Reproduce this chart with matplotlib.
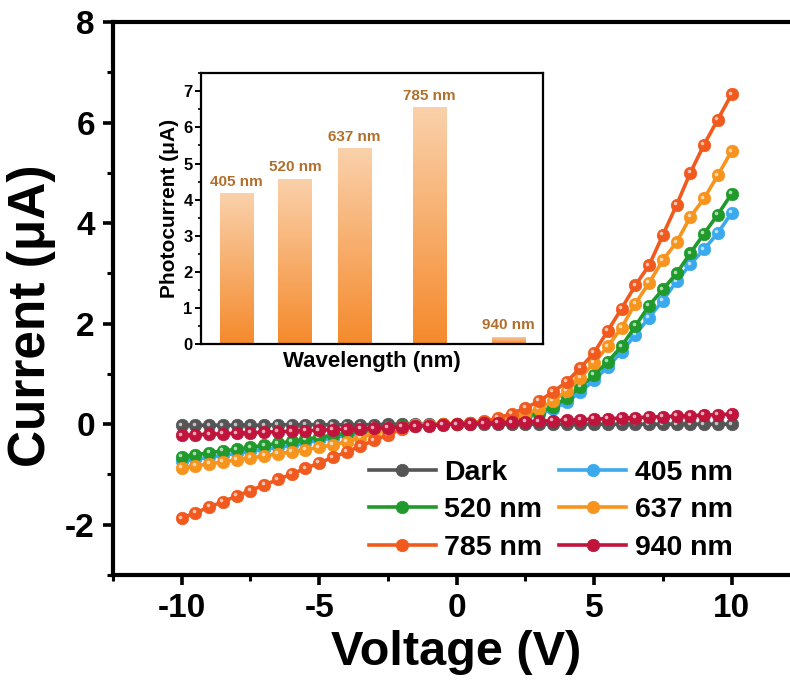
import numpy as np
import matplotlib
matplotlib.use("Agg")
import matplotlib.pyplot as plt
from matplotlib.colors import LinearSegmentedColormap
from matplotlib.transforms import ScaledTranslation
from matplotlib.ticker import MultipleLocator

plt.rcParams['font.family'] = ['Liberation Sans', 'DejaVu Sans']
plt.rcParams['font.weight'] = 'bold'
plt.rcParams['axes.unicode_minus'] = False

# voltage sweep (V)
voltage = np.arange(-10, 10.01, 0.5)

# I-V curves (uA)
dark = [-0.02, -0.02, -0.02, -0.02, -0.02, -0.02, -0.02, -0.01, -0.01, -0.01,
        -0.01, -0.01, -0.01, -0.01, -0.01, 0.0, 0.0, 0.0, 0.0, 0.0,
        0.0, 0.0, 0.0, 0.0, 0.0, 0.0, 0.0, 0.0, 0.0, 0.0,
        0.0, 0.0, 0.0, 0.0, 0.0, 0.0, 0.0, 0.0, 0.0, 0.0, 0.0]
nm405 = [-0.74, -0.70, -0.66, -0.62, -0.58, -0.54, -0.50, -0.46, -0.42, -0.37,
         -0.32, -0.27, -0.22, -0.17, -0.12, -0.08, -0.05, -0.02, -0.01, 0.0,
         0.01, 0.02, 0.03, 0.05, 0.08, 0.13, 0.20, 0.30, 0.44, 0.64,
         0.88, 1.14, 1.44, 1.78, 2.12, 2.46, 2.84, 3.18, 3.48, 3.80, 4.20]
nm520 = [-0.65, -0.61, -0.57, -0.53, -0.50, -0.46, -0.42, -0.38, -0.34, -0.30,
         -0.26, -0.22, -0.18, -0.14, -0.10, -0.07, -0.04, -0.02, -0.01, 0.0,
         0.01, 0.02, 0.03, 0.05, 0.08, 0.14, 0.23, 0.35, 0.52, 0.74,
         0.98, 1.24, 1.55, 1.95, 2.36, 2.68, 3.00, 3.40, 3.79, 4.17, 4.58]
nm637 = [-0.87, -0.83, -0.79, -0.75, -0.71, -0.67, -0.63, -0.59, -0.55, -0.51,
         -0.46, -0.41, -0.35, -0.27, -0.18, -0.10, -0.05, -0.02, -0.01, 0.0,
         0.01, 0.02, 0.04, 0.07, 0.12, 0.20, 0.31, 0.46, 0.66, 0.92,
         1.22, 1.55, 1.92, 2.40, 2.81, 3.26, 3.62, 4.12, 4.49, 4.95, 5.43]
nm785 = [-1.87, -1.76, -1.65, -1.54, -1.43, -1.32, -1.21, -1.10, -0.99, -0.88,
         -0.77, -0.66, -0.55, -0.44, -0.32, -0.21, -0.10, -0.04, -0.01, 0.0,
         0.01, 0.03, 0.06, 0.12, 0.21, 0.32, 0.46, 0.64, 0.84, 1.12,
         1.42, 1.86, 2.30, 2.76, 3.16, 3.76, 4.36, 5.00, 5.56, 6.06, 6.56]
nm940 = [-0.22, -0.21, -0.20, -0.19, -0.18, -0.17, -0.16, -0.15, -0.14, -0.13,
         -0.12, -0.11, -0.10, -0.09, -0.08, -0.07, -0.05, -0.04, -0.03, -0.01,
         0.0, 0.01, 0.02, 0.03, 0.04, 0.05, 0.06, 0.07, 0.08, 0.09,
         0.10, 0.11, 0.12, 0.13, 0.14, 0.15, 0.16, 0.17, 0.18, 0.19, 0.20]

curve_labels = ['Dark', '405 nm', '520 nm', '637 nm', '785 nm', '940 nm']
curve_data = [dark, nm405, nm520, nm637, nm785, nm940]
curve_colors = ['#555555', '#3aa9ee', '#1f9a2b', '#f7941e', '#f05a1e', '#c0143c']

# inset: photocurrent at 10 V
wavelengths = [405, 520, 637, 785, 940]
photocurrent = [4.18, 4.58, 5.43, 6.56, 0.20]
bar_labels = ['405 nm', '520 nm', '637 nm', '785 nm', '940 nm']

fig = plt.figure(figsize=(7.9, 6.87), dpi=100)
ax = fig.add_axes([0.143, 0.163, 0.870, 0.805])

hl_offset = ax.transData + ScaledTranslation(-1.2 / 72, 1.2 / 72, fig.dpi_scale_trans)
handles = []
for i, (lab, y, c) in enumerate(zip(curve_labels, curve_data, curve_colors)):
    ln, = ax.plot(voltage, y, '-o', color=c, lw=2.6, ms=9, mec=c, mew=0.5,
                  label=lab, zorder=3 + i)
    ax.plot(voltage, y, 'o', color='white', ms=2.6, alpha=0.65, mew=0,
            transform=hl_offset, zorder=3 + i)
    handles.append(ln)

ax.set_xlim(-12.5, 12.5)
ax.set_ylim(-3, 8)
ax.xaxis.set_major_locator(MultipleLocator(5))
ax.xaxis.set_minor_locator(MultipleLocator(2.5))
ax.yaxis.set_major_locator(MultipleLocator(2))
ax.yaxis.set_minor_locator(MultipleLocator(1))
ax.tick_params(which='major', direction='out', length=7, width=2.6, labelsize=24, pad=6)
ax.tick_params(which='minor', direction='out', length=4, width=2.2)
ax.tick_params(top=False, right=False)
for s in ax.spines.values():
    s.set_linewidth(3)
for t in ax.get_xticklabels() + ax.get_yticklabels():
    t.set_fontweight('bold')
ax.set_xlabel('Voltage (V)', fontsize=35, fontweight='bold', labelpad=4)
ax.set_ylabel('Current (μA)', fontsize=37, fontweight='bold')
ax.yaxis.set_label_coords(-0.083, 0.468)

ax.legend(handles=[handles[0], handles[2], handles[4], handles[1], handles[3], handles[5]],
          labels=[curve_labels[0], curve_labels[2], curve_labels[4],
                  curve_labels[1], curve_labels[3], curve_labels[5]],
          ncol=2, loc='lower right', bbox_to_anchor=(0.9225, 0.0), frameon=False,
          prop={'size': 20.5, 'weight': 'bold'}, handlelength=2.35, handletextpad=0.3,
          columnspacing=0.6, labelspacing=0.4, borderpad=0)

# inset bar chart with vertical gradient fill
axin = fig.add_axes([0.2544, 0.4993, 0.433, 0.394])
cmap = LinearSegmentedColormap.from_list('peach', ['#f58a2c', '#fad1ab'])
grad = np.linspace(0, 1, 256).reshape(-1, 1)
bars = axin.bar(wavelengths, photocurrent, width=66, color='none', edgecolor='none')
for b in bars:
    x0, w, h = b.get_x(), b.get_width(), b.get_height()
    im = axin.imshow(grad, extent=[x0, x0 + w, 0, h], origin='lower', aspect='auto',
                     cmap=cmap, zorder=2)
    im.set_clip_path(b)
for wl, pc, lab in zip(wavelengths, photocurrent, bar_labels):
    axin.text(wl, pc + 0.12, lab, ha='center', va='bottom', fontsize=11,
              fontweight='bold', color='#b26f2c')

axin.set_xlim(335, 1008)
axin.set_ylim(0, 7.5)
axin.set_xticks([])
axin.yaxis.set_major_locator(MultipleLocator(1))
axin.yaxis.set_minor_locator(MultipleLocator(0.5))
axin.tick_params(axis='y', which='major', direction='out', length=4, width=1.4,
                 labelsize=12, pad=2)
axin.tick_params(axis='y', which='minor', direction='out', length=2.2, width=1.2)
for s in axin.spines.values():
    s.set_linewidth(1.6)
for t in axin.get_yticklabels():
    t.set_fontweight('bold')
axin.set_xlabel('Wavelength (nm)', fontsize=16, fontweight='bold', labelpad=5)
axin.set_ylabel('Photocurrent (μA)', fontsize=15, fontweight='bold', labelpad=3)

fig.savefig('out.png', dpi=100)
